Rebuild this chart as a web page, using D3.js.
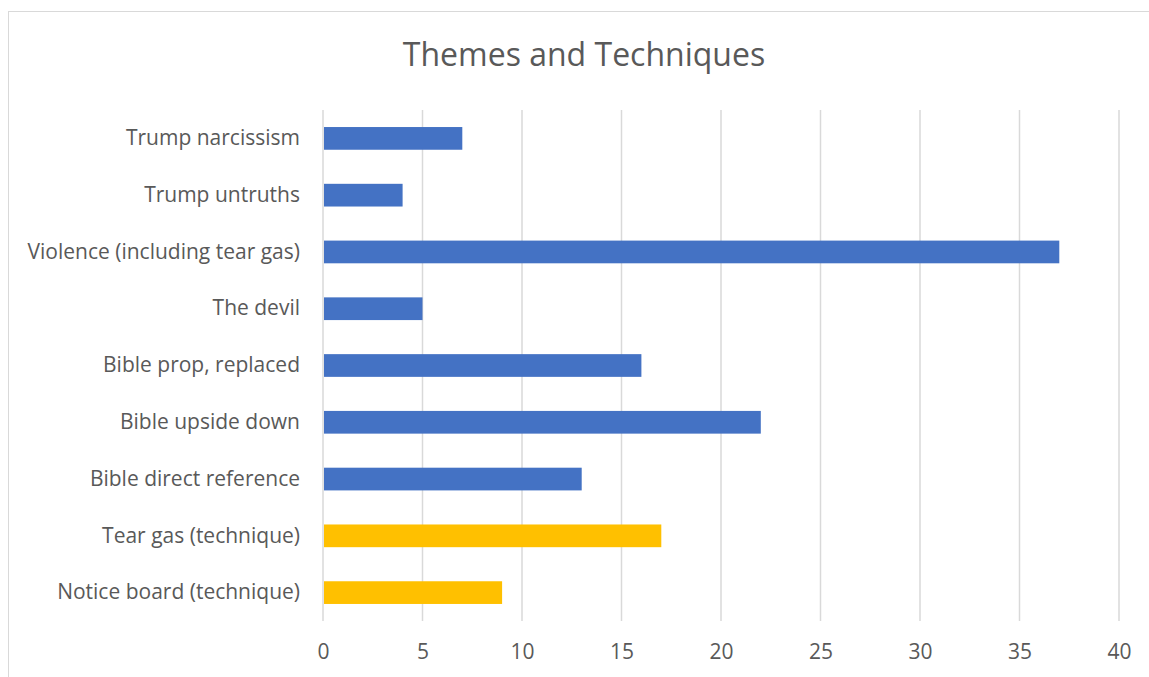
<!DOCTYPE html>
<html><head><meta charset="utf-8">
<script src="https://cdn.jsdelivr.net/npm/d3@7"></script>
<style>body{margin:0;background:#fff;} svg{display:block;}</style>
</head><body>
<svg id="chart" width="1149" height="677"></svg>
<script>
const categories = ["Trump narcissism","Trump untruths","Violence (including tear gas)","The devil","Bible prop, replaced","Bible upside down","Bible direct reference","Tear gas (technique)","Notice board (technique)"];
const values = [7,4,37,5,16,22,13,17,9];
const groups = ["theme","theme","theme","theme","theme","theme","theme","technique","technique"];
const xTicks = [0,5,10,15,20,25,30,35,40];
const title = "Themes and Techniques";

(function(){
const colors = {theme:"#4472C4", technique:"#FFC000"};
const font = "'Open Sans', Lato, sans-serif";
const svg = d3.select("#chart");
svg.append("rect").attr("x",8.5).attr("y",11.5).attr("width",1160).attr("height",700)
  .attr("fill","#fff").attr("stroke","#d9d9d9").attr("stroke-width",1);

const pl=323, pr=1119, pt=110, pb=621;
const x = d3.scaleLinear().domain([0,40]).range([pl,pr]);
const y = d3.scaleBand().domain(categories).range([pt,pb]).paddingInner(0.6).paddingOuter(0.3);

svg.append("g").selectAll("line").data(xTicks).join("line")
  .attr("x1",d=>x(d)).attr("x2",d=>x(d)).attr("y1",pt).attr("y2",pb)
  .attr("stroke","#d9d9d9").attr("stroke-width",1.5);

svg.append("g").selectAll("rect").data(categories).join("rect")
  .attr("x",x(0)+1).attr("y",d=>y(d)).attr("height",y.bandwidth())
  .attr("width",(d,i)=>x(values[i])-x(0)-1)
  .attr("fill",(d,i)=>colors[groups[i]]);

const xAxis = d3.axisBottom(x).tickValues(xTicks).tickSize(0).tickPadding(0);
const gx = svg.append("g").attr("transform",`translate(0,${pb+31})`).call(xAxis);
gx.select(".domain").remove();
gx.selectAll("text").attr("fill","#595959").attr("font-size",21).attr("font-family",font).attr("dy","0.32em");

const yAxis = d3.axisLeft(y).tickSize(0).tickPadding(23);
const gy = svg.append("g").attr("transform",`translate(${pl},0)`).call(yAxis);
gy.select(".domain").remove();
gy.selectAll("text").attr("fill","#595959").attr("font-size",21).attr("font-family",font);

svg.append("text").attr("x",584).attr("y",57).attr("text-anchor","middle").attr("dominant-baseline","middle")
  .attr("fill","#595959").attr("font-size",32).attr("font-family",font).text(title);
})();
</script>
</body></html>
